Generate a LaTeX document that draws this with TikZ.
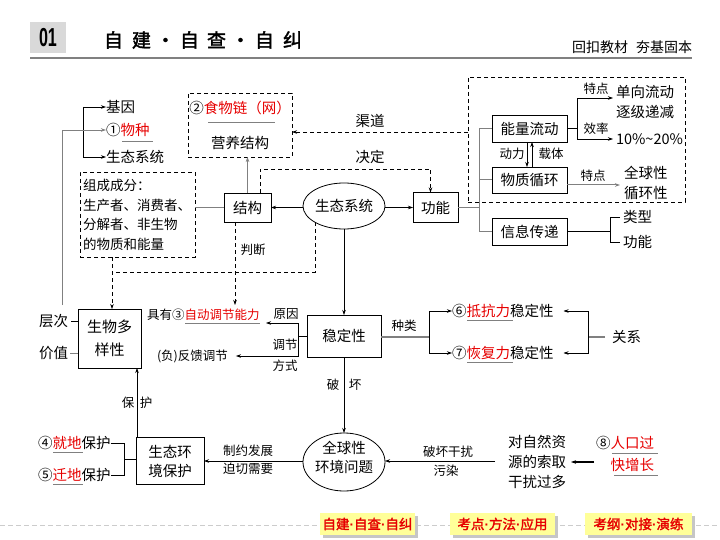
\documentclass[tikz,border=0pt]{standalone}
\usepackage{fontspec}
\setmainfont{Noto Sans CJK SC}
\newfontfamily\hdfont{Liberation Sans}
\newfontfamily\boldcjk{Noto Sans CJK SC}[FakeBold=2]
\usetikzlibrary{arrows.meta,shapes.geometric,calc}
\definecolor{myred}{RGB}{230,0,0}
\definecolor{lgray}{RGB}{128,128,128}
\definecolor{btnyellow}{RGB}{255,255,153}
\newcommand{\mdot}{{\hdfont\bfseries\textperiodcentered}}
\begin{document}
\begin{tikzpicture}[x=1pt,y=-1pt,
  every node/.style={inner sep=0pt, outer sep=0pt, font=\fontsize{14.5}{17}\selectfont},
  lab/.style={font=\fontsize{12.5}{14}\selectfont},
  box/.style={draw, line width=0.8pt},
  arr/.style={-{Stealth[length=5pt,width=3.5pt]}, line width=0.6pt},
  dsh/.style={dash pattern=on 4pt off 3pt, line width=0.8pt},
  gl/.style={draw=lgray, line width=1.2pt},
  ul/.style={draw=lgray, line width=0.6pt},
  btn/.style={fill=btnyellow, minimum height=22, text=myred, font=\boldcjk\fontsize{13.5}{13.5}\selectfont},
]
\useasboundingbox (0,0) rectangle (720,540);

% ---------- header ----------
\fill[gray!30] (30,22) rectangle (66,53);
\node[font=\hdfont\bfseries\fontsize{26}{26}\selectfont, xscale=0.62] (num) at (48,38) {01};
\node[anchor=west, font=\boldcjk\fontsize{19}{19}\selectfont] (title) at (104,40) {自\hspace{9pt}建\hspace{5pt}·\hspace{5pt}自\hspace{8pt}查\hspace{5pt}·\hspace{5pt}自\hspace{9pt}纠};
\node[anchor=east, font=\fontsize{14}{14}\selectfont] (sub) at (692,47) {回扣教材\hspace{8pt}夯基固本};
\draw[gray, line width=2pt] (30,58) -- (692,58);

% ---------- footer ----------
\draw[gray!40, dash pattern=on 5pt off 3pt, line width=1pt] (0,525) -- (720,525);
\fill[gray!45] (323,516) rectangle (418,538);
\node[btn, minimum width=95] (b1) at (367.5,524) {自建\mdot 自查\mdot 自纠};
\fill[gray!45] (453,516) rectangle (558,538);
\node[btn, minimum width=105] (b2) at (502.5,524) {考点\mdot 方法\mdot 应用};
\fill[gray!45] (588,516) rectangle (695,538);
\node[btn, minimum width=107] (b3) at (638.5,524) {考纲\mdot 对接\mdot 演练};

% ---------- top left ----------
\node[anchor=west] (jiyin) at (106,107) {基因};
\node[anchor=west] (wuzhong) at (106,130) {①\textcolor{myred}{物种}};
\node[anchor=west] (stxt) at (106,157) {生态系统};
\draw[ul] (122,141) -- (153,141);
\coordinate (bkt) at (83,107);
\coordinate (bkb) at (83,157);
\draw[line width=0.6pt] (bkt) -- (bkb);
\draw[arr] (bkt) -- (jiyin.west);
\draw[arr] (bkb) -- (stxt.west);

\node[draw, dsh, minimum width=104, minimum height=64] (food) at (240,125) {};
\node (foodt) at (240,108) {②\textcolor{myred}{食物链（网）}};
\draw[ul] (208,122) -- (275,122);
\node (yyjg) at (240,143) {营养结构};

\node[draw, dsh, minimum width=115, minimum height=85] (comp) at (137.5,214.5) {};
\node[anchor=west, align=left, font=\fontsize{13.5}{19.5}\selectfont] (compt) at (83,215) {组成成分：\\生产者、消费者、\\分解者、非生物\\的物质和能量};

\node[box, minimum width=47, minimum height=29] (jg) at (247.5,207.5) {结构};
\node[ellipse, draw, line width=0.8pt, minimum width=82, minimum height=46] (st) at (344,206) {生态系统};
\node[box, minimum width=45, minimum height=30] (gn) at (435.5,207.5) {功能};

\draw[gl, line width=1pt] (comp.east |- jg.west) -- (jg.west);
\draw[arr, draw=lgray] (jg.north) -- (jg.north |- food.south);
\draw[arr] (st.west |- jg.east) -- (jg.east);
\draw[arr] (st.east |- gn.west) -- (gn.west);

% channels / decide
\coordinate (qd) at (0,132);
\coordinate (jd) at (260,169);
\node[dsh, draw, minimum width=217, minimum height=125] (ebox) at (576.5,139.5) {};
\draw[dsh, arr] (ebox.west |- qd) -- (food.east |- qd);
\node (qdt) at (370,121) {渠道};
\node (jdt) at (370,157) {决定};
\draw[dsh, arr] (jg.north -| jd) -- (jd) -| ($(gn.north)+(-5,0)$);

% dashed lines below
\coordinate (dl) at (112,272);
\draw[dsh] (st.-150) -- (st.-150 |- dl) -- (dl);

% energy region
\node[box, minimum width=75, minimum height=27] (nl) at (529.5,128.5) {能量流动};
\node[box, minimum width=75, minimum height=26] (wz) at (529.5,180) {物质循环};
\node[box, minimum width=75, minimum height=27] (xx) at (529.5,231.5) {信息传递};
\coordinate (gb) at (479,207.5);
\draw[gl, line width=1pt] (gn.east) -- (gb);
\draw[gl, line width=1pt] (gb |- nl.west) -- (gb |- xx.west);
\draw[gl, line width=1pt] (gb |- nl.west) -- (nl.west);
\draw[gl, line width=1pt] (gb |- wz.west) -- (wz.west);
\draw[gl, line width=1pt] (gb |- xx.west) -- (xx.west);

\draw[arr] ($(nl.south)+(-2.5,0)$) -- ($(wz.north)+(-2.5,0)$);
\draw[arr] ($(wz.north)+(2.5,0)$) -- ($(nl.south)+(2.5,0)$);
\node[lab] (dl1) at (512,154) {动力};
\node[lab] (zt) at (551,154) {载体};

\coordinate (nb) at (577,128.5);
\coordinate (t1) at (613,98);
\coordinate (t2) at (613,139);
\draw[line width=0.6pt] (nl.east) -- (nb);
\draw[arr] (nb) |- (t1);
\draw[arr] (nb) |- (t2);
\node[lab] (td1) at (596,89) {特点};
\node[lab] (xl) at (596,129) {效率};
\node[anchor=west, align=left, font=\fontsize{14.5}{20}\selectfont] (dx) at (616,102) {单向流动\\逐级递减};
\node[anchor=west] (pct) at (616,139) {10\%\textasciitilde20\%};

\coordinate (t3) at (620,185);
\draw[arr, draw=lgray, line width=1pt] (wz.east |- t3) -- (t3);
\node[lab] (td2) at (593,176) {特点};
\node[anchor=west, align=left, font=\fontsize{14.5}{19.5}\selectfont] (qq) at (624,183) {全球性\\循环性};

\coordinate (xb) at (610,231.5);
\draw[line width=0.6pt] (xx.east) -- (xb);
\draw[line width=0.6pt] (620,217) -- (610,217) -- (610,242) -- (620,242);
\node[anchor=west] (lx) at (623,217) {类型};
\node[anchor=west] (gn2) at (623,242) {功能};

% ---------- middle ----------
\node[box, minimum width=63, minimum height=59, align=center, font=\fontsize{15}{23}\selectfont] (sw) at (109.5,338.5) {生物多\\样性};
\draw[dsh, arr] (comp.south -| dl) -- (sw.north -| dl);
\coordinate (pd) at (235,305);
\draw[dsh, arr] (jg.south -| pd) -- (pd);
\node[lab] (pdt) at (253,250) {判断};

\node[anchor=east] (cc) at (68,321) {层次};
\node[anchor=east] (jz) at (68,353) {价值};
\draw[line width=0.8pt] ($(cc.east)+(3,0)$) -- (cc.east -| sw.west);
\draw[gl, line width=1pt] ($(jz.east)+(2,0)$) -- (jz.east -| sw.west);
\coordinate (c62) at (62,305);
\draw[arr, draw=lgray, line width=0.9pt] (c62) |- (wuzhong.west);

\node[anchor=west, lab] (zd) at (147,315) {具有③\textcolor{myred}{自动调节能力}};
\draw[ul] (185,323) -- (260,323);
\node[lab] (yy) at (286,314) {原因};

\node[box, minimum width=74, minimum height=42] (wd) at (344,336) {稳定性};
\coordinate (tj) at (298,336);
\coordinate (a1) at (266,323);
\draw[line width=0.6pt] (wd.west) -- (tj);
\draw[arr] (tj) |- (a1);
\node[anchor=west, lab] (fk) at (157,356) {(负)反馈调节};
\draw[arr] (tj) |- ($(fk.east)+(8,0)$);
\node[lab] (tjt) at (285,345) {调节};
\node[lab] (fst) at (285,366) {方式};

\draw[arr] (st.south) -- (wd.north);

\coordinate (zl) at (429,337);
\draw[gl] (wd.east |- zl) -- (zl);
\node[lab] (zlt) at (404,326) {种类};
\node[anchor=west] (r6) at (452,311) {⑥\textcolor{myred}{抵抗力}稳定性};
\node[anchor=west] (r7) at (452,353) {⑦\textcolor{myred}{恢复力}稳定性};
\draw[ul] (467,320) -- (513,320);
\draw[ul] (467,362) -- (513,362);
\draw[arr] (zl) |- (r6.west);
\draw[arr] (zl) |- (r7.west);
\node[anchor=west] (gx) at (612,337) {关系};
\coordinate (gxb) at (588,337);
\draw[gl] ($(gx.west)+(-7,0)$) -- (gxb);
\draw[arr] (gxb) |- ($(r6.east)+(10,0)$);
\draw[arr] (gxb) |- ($(r7.east)+(10,0)$);

% ---------- bottom ----------
\node[ellipse, draw, line width=0.8pt, minimum width=82, minimum height=58] (ge) at (344,462) {};
\node[align=center, font=\fontsize{14.5}{19}\selectfont] (get) at (344,457) {全球性\\环境问题};
\draw[arr] (wd.south) -- (ge.north);
\node[lab] (po) at (333,385) {破};
\node[lab] (huai) at (355,385) {坏};

\node[box, minimum width=68, minimum height=47, align=center, font=\fontsize{14.5}{19}\selectfont] (hb) at (170,461) {生态环\\境保护};
\draw[arr] (ge.west |- hb.east) -- (hb.east);
\node[lab] (zy) at (248,451) {制约发展};
\node[lab] (pq) at (248,469) {迫切需要};

\coordinate (bh) at (137,0);
\draw[arr] (hb.north -| bh) -- (sw.south -| bh);
\node[lab] (bao) at (128,403) {保};
\node[lab] (hu) at (146,403) {护};

\node[anchor=west] (p4) at (38,443) {④\textcolor{myred}{就地}保护};
\node[anchor=west] (p5) at (38,475) {⑤\textcolor{myred}{迁地}保护};
\draw[ul] (53,452) -- (83,452);
\draw[ul] (53,484) -- (83,484);
\coordinate (pb) at (124,459);
\draw[line width=0.6pt] (p4.east) -- (p4.east -| pb) -- (p5.east -| pb) -- (p5.east);
\draw[line width=0.6pt] (pb) -- (hb.west |- pb);

\node[align=center, font=\fontsize{14.5}{20}\selectfont] (dz) at (537,462) {对自然资\\源的索取\\干扰过多};
\coordinate (dze) at (495,461);
\draw[arr] (dze) -- (ge.east |- dze);
\node[lab] (phgr) at (448,452) {破坏干扰};
\node[lab] (wr) at (446,471) {污染};

\node[anchor=west, align=right, font=\fontsize{14.5}{22}\selectfont] (p8) at (596,454) {⑧\textcolor{myred}{人口过}\\\textcolor{myred}{快增长}};
\draw[ul] (612,453) -- (658,453);
\draw[ul] (614,475) -- (658,475);
\coordinate (p8a) at (594,462);
\coordinate (p8b) at (571,462);
\draw[arr, line width=1.1pt] (p8a) -- (p8b);
\end{tikzpicture}
\end{document}
